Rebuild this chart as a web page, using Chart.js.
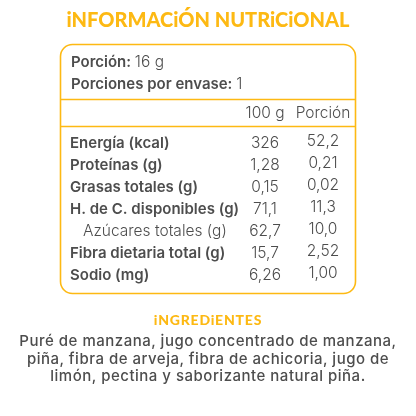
<!DOCTYPE html>
<html lang="es">
<head>
<meta charset="utf-8">
<title>Información nutricional</title>
<script src="https://cdn.jsdelivr.net/npm/chart.js@4"></script>
<style>
    html, body { margin: 0; background: #fff; }
    #page { position: relative; width: 416px; height: 416px; overflow: hidden; }
    #tabla { position: absolute; left: 0; top: 0; }
    .head { position: absolute; left: 0; width: 416px; text-align: center; color: #fdb913;
            font-family: 'Lato', sans-serif; font-weight: 900; white-space: nowrap; }
    #titulo { top: 6px; font-size: 20px; line-height: 26px; letter-spacing: 0; }
    #subtitulo { top: 310px; font-size: 14px; line-height: 20px; letter-spacing: 0.8px; }
    #ingredientes { position: absolute; left: 0; top: 332px; width: 416px; text-align: center; color: #4d4d4d;
            font-family: 'Inter', sans-serif; font-weight: 500; font-size: 15px; line-height: 17.5px; letter-spacing: 0.5px; white-space: nowrap; }
</style>
</head>
<body>
<div id="page">
    <canvas id="tabla" width="416" height="416"></canvas>
    <div class="head" id="titulo">iNFORMACiÓN NUTRiCiONAL</div>
    <div class="head" id="subtitulo">iNGREDiENTES</div>
    <div id="ingredientes">Puré de manzana, jugo concentrado de manzana,<br>piña, fibra de arveja, fibra de achicoria, jugo de<br>limón, pectina y saborizante natural piña.</div>
</div>
<script>
const columns = ['100 g', 'Porción'];
const rowLabels = ['Energía (kcal)', 'Proteínas (g)', 'Grasas totales (g)', 'H. de C. disponibles (g)', 'Azúcares totales (g)', 'Fibra dietaria total (g)', 'Sodio (mg)'];
const per100g = ['326', '1,28', '0,15', '71,1', '62,7', '15,7', '6,26'];
const perPortion = ['52,2', '0,21', '0,02', '11,3', '10,0', '2,52', '1,00'];
const subRows = ['Azúcares totales (g)'];
const servingLabels = ['Porción:', 'Porciones por envase:'];
const servingValues = ['16 g', '1'];

const YELLOW = '#fdb913';
const TEXT = '#4d4d4d';
const BOLD_FONT = "600 15px 'Inter', sans-serif";
const LIGHT_FONT = "300 15.5px 'Inter', sans-serif";

// box, rules and all the table text
const labelPlugin = {
    id: 'labelPlugin',
    beforeDraw(chart) {
        const ctx = chart.ctx;
        ctx.save();
        ctx.strokeStyle = YELLOW;
        ctx.lineWidth = 1.6;
        ctx.beginPath();
        ctx.roundRect(60.5, 44.5, 295, 249, 12);
        ctx.moveTo(60.5, 99.5);
        ctx.lineTo(355.5, 99.5);
        ctx.moveTo(60.5, 126.5);
        ctx.lineTo(355.5, 126.5);
        ctx.stroke();
        ctx.restore();
    },
    afterDatasetsDraw(chart) {
        const ctx = chart.ctx;
        const x = chart.scales.x;
        ctx.save();
        ctx.fillStyle = TEXT;
        ctx.textBaseline = 'middle';

        // serving lines
        servingLabels.forEach((label, i) => {
            const y = 62 + i * 22;
            ctx.textAlign = 'left';
            ctx.font = BOLD_FONT;
            ctx.fillText(label, 71, y);
            const w = ctx.measureText(label + ' ').width;
            ctx.font = LIGHT_FONT;
            ctx.fillText(servingValues[i], 71 + w, y);
        });

        // column headers
        ctx.textAlign = 'center';
        ctx.font = LIGHT_FONT;
        columns.forEach((c, i) => ctx.fillText(c, x.getPixelForValue(i), 113));

        // row names
        ctx.textAlign = 'left';
        rowLabels.forEach((label, i) => {
            const sub = subRows.includes(label);
            ctx.font = sub ? LIGHT_FONT : BOLD_FONT;
            ctx.fillText(label, sub ? 83 : 70, chart.scales.y.getPixelForValue(i));
        });

        // values sit on the invisible points
        ctx.textAlign = 'center';
        ctx.font = LIGHT_FONT;
        chart.data.datasets.forEach((ds, d) => {
            chart.getDatasetMeta(d).data.forEach((pt, i) => {
                ctx.fillText(ds.values[i], pt.x, pt.y + ds.shift);
            });
        });
        ctx.restore();
    }
};

new Chart(document.getElementById('tabla'), {
    type: 'line',
    data: {
        labels: columns,
        datasets: [
            { label: columns[0], values: per100g, shift: 0, showLine: false, pointRadius: 0, data: rowLabels.map(r => ({ x: columns[0], y: r })) },
            { label: columns[1], values: perPortion, shift: -2, showLine: false, pointRadius: 0, data: rowLabels.map(r => ({ x: columns[1], y: r })) }
        ]
    },
    options: {
        responsive: false,
        animation: false,
        layout: { padding: { left: 265, right: 93, top: 143, bottom: 141 } },
        plugins: { legend: { display: false }, tooltip: { enabled: false } },
        scales: {
            x: { type: 'category', display: false, offset: false },
            y: { type: 'category', display: false, offset: false, labels: rowLabels }
        }
    },
    plugins: [labelPlugin]
});
</script>
</body>
</html>
